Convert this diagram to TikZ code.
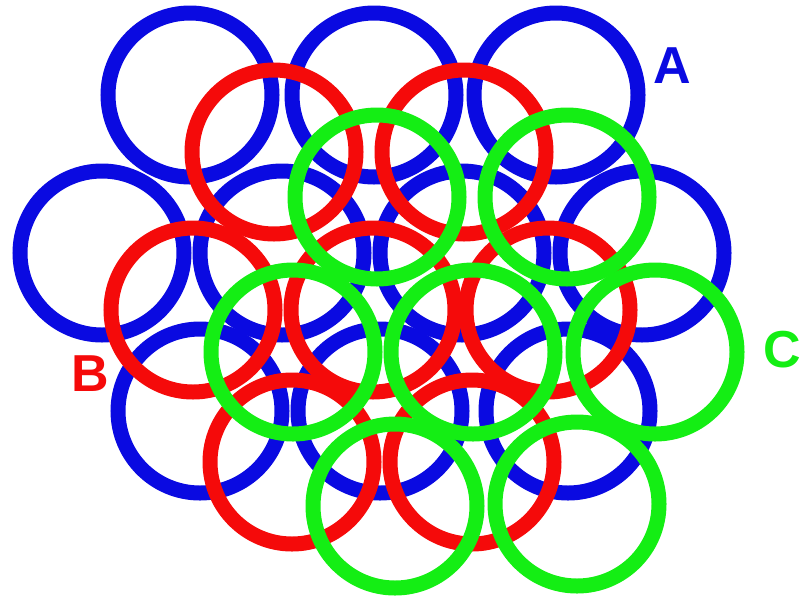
\documentclass[tikz,border=0pt]{standalone}
\usepackage{fontspec}
\setmainfont{Liberation Sans}
\definecolor{layA}{RGB}{10,10,225}
\definecolor{layB}{RGB}{245,10,10}
\definecolor{layC}{RGB}{20,238,20}
\begin{document}
\begin{tikzpicture}[x=1pt,y=-1pt,
  ring/.style={line width=15pt},
  lab/.style={font=\fontsize{52}{52}\selectfont\bfseries, inner sep=0pt}]
\useasboundingbox (0,0) rectangle (802,603);
% layer A (blue)
\foreach \p in {(190,95),(374,95),(556,95),(102,253),(282,253),(462,253),(642,253),(200,411),(380,411),(568,411)}
  \draw[ring,layA] \p circle[radius=82];
% layer B (red)
\foreach \p in {(274,152),(464,152),(193,310),(373,310),(548,310),(292,462),(472,462)}
  \draw[ring,layB] \p circle[radius=82];
% layer C (green)
\foreach \p in {(377,197),(567,197),(293,352),(473,352),(655,352),(395,506),(577,504)}
  \draw[ring,layC] \p circle[radius=82];
\node[lab,text=layA] (labA) at (672,66) {A};
\node[lab,text=layB] (labB) at (90,374) {B};
\node[lab,text=layC] (labC) at (782,350) {C};
\end{tikzpicture}
\end{document}
